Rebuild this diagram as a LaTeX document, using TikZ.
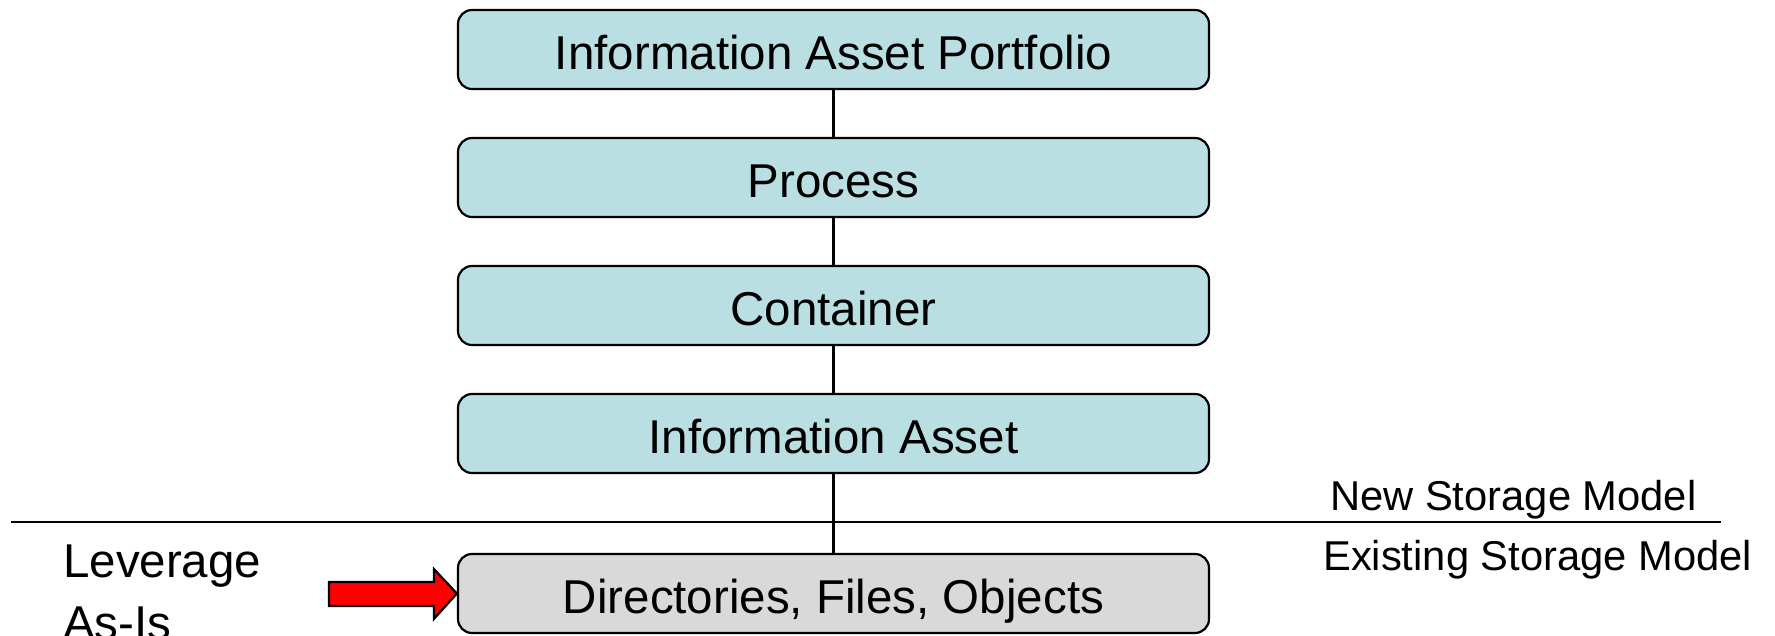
\documentclass[tikz,border=0pt]{standalone}
\usepackage{fontspec}
\setmainfont{Liberation Sans}
\usetikzlibrary{calc}
\definecolor{boxteal}{HTML}{B9DFE3}
\definecolor{boxgray}{HTML}{D9D9D9}
\tikzset{
  layerbox/.style={draw=black, line width=2.2pt, rounded corners=14pt, minimum width=751pt, minimum height=79pt, inner sep=0pt, text height=40pt, text depth=0pt, font=\fontsize{47.5}{57}\selectfont, fill=boxteal},
  oldbox/.style={layerbox, fill=boxgray},
  link/.style={line width=2.6pt},
  lbl/.style={inner sep=0pt, anchor=base west},
}
\begin{document}
\begin{tikzpicture}[x=1pt,y=-1pt]
\useasboundingbox (0,0) rectangle (1775,636);
\node[layerbox] (b1) at (833.5,49.5) {Information Asset Portfolio};
\node[layerbox] (b2) at (833.5,177.5) {Process};
\node[layerbox] (b3) at (833.5,305.5) {Container};
\node[layerbox] (b4) at (833.5,433.5) {Information Asset};
\node[oldbox] (b5) at (833.5,593.5) {Directories, Files, Objects};
\draw[link] (b1.south) -- (b2.north);
\draw[link] (b2.south) -- (b3.north);
\draw[link] (b3.south) -- (b4.north);
\draw[link] (b4.south) -- (b5.north);
\coordinate (sepL) at (11,522);
\coordinate (sepR) at (1721,522);
\draw[line width=2.2pt] (sepL) -- (sepR);
\node[lbl, font=\fontsize{41.7}{50}\selectfont] (newm) at (1330,510) {New Storage Model};
\node[lbl, font=\fontsize{41.7}{50}\selectfont] (exm) at (1323,570) {Existing Storage Model};
\node[lbl, font=\fontsize{47.5}{57}\selectfont] (lev1) at (63,577) {Leverage};
\node[lbl, font=\fontsize{47.5}{57}\selectfont] (lev2) at (63,639) {As-Is};
\draw[line width=2.2pt, fill=red, line join=miter]
  ($(b5.west)+(-128,-11.5)$) -- ($(b5.west)+(-23,-11.5)$) -- ($(b5.west)+(-23,-24.5)$)
  -- (b5.west) -- ($(b5.west)+(-23,25.5)$) -- ($(b5.west)+(-23,12.5)$)
  -- ($(b5.west)+(-128,12.5)$) -- cycle;
\end{tikzpicture}
\end{document}
